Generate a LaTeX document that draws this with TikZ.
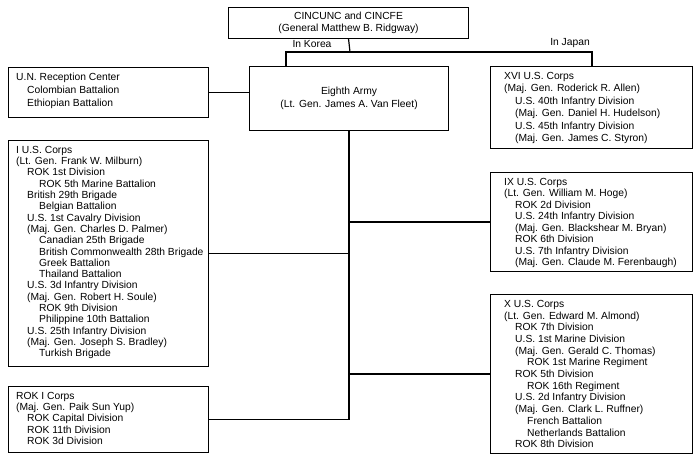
\documentclass[tikz,border=0pt]{standalone}
\usepackage{fontspec}
\setmainfont{Liberation Sans}
\usetikzlibrary{positioning}
\newcommand{\ia}{\hspace*{11pt}}
\newcommand{\ib}{\hspace*{23pt}}
\newcommand{\lines}[1]{\fontsize{10.3}{#1}\selectfont}
\begin{document}
\begin{tikzpicture}[x=1pt, y=-1pt,
  box/.style={draw, line width=1.1pt, anchor=north west, inner sep=0pt},
  txt/.style={anchor=north west, align=left, inner sep=0pt, xshift=8pt, yshift=-6pt},
  ctr/.style={align=center, font=\lines{12.5}},
  link/.style={line width=1.2pt},
]
\useasboundingbox (0,0) rectangle (700,460);

% command level
\node[box, minimum width=240pt, minimum height=31pt] (cinc) at (228,7) {};
\node[ctr] at (cinc.center) {CINCUNC and CINCFE\\(General Matthew B. Ridgway)};
\node[box, minimum width=199pt, minimum height=64pt] (eighth) at (249,66) {};
\node[ctr] at (eighth.center) {Eighth Army\\(Lt. Gen. James A. Van Fleet)};

% left column
\node[box, minimum width=200pt, minimum height=50pt] (unrc) at (8,67) {};
\node[txt, font=\lines{13}] at (unrc.north west)
  {U.N. Reception Center\\\ia Colombian Battalion\\\ia Ethiopian Battalion};
\node[box, minimum width=200pt, minimum height=226pt] (icorps) at (8,140) {};
\node[txt, font=\lines{11.3}] at (icorps.north west)
  {I U.S. Corps\\(Lt. Gen. Frank W. Milburn)\\
   \ia ROK 1st Division\\\ib ROK 5th Marine Battalion\\
   \ia British 29th Brigade\\\ib Belgian Battalion\\
   \ia U.S. 1st Cavalry Division\\\ia (Maj. Gen. Charles D. Palmer)\\
   \ib Canadian 25th Brigade\\\ib British Commonwealth 28th Brigade\\
   \ib Greek Battalion\\\ib Thailand Battalion\\
   \ia U.S. 3d Infantry Division\\\ia (Maj. Gen. Robert H. Soule)\\
   \ib ROK 9th Division\\\ib Philippine 10th Battalion\\
   \ia U.S. 25th Infantry Division\\\ia (Maj. Gen. Joseph S. Bradley)\\
   \ib Turkish Brigade};
\node[box, minimum width=200pt, minimum height=66pt] (rokone) at (8,386) {};
\node[txt, font=\lines{11.3}] at (rokone.north west)
  {ROK I Corps\\(Maj. Gen. Paik Sun Yup)\\\ia ROK Capital Division\\
   \ia ROK 11th Division\\\ia ROK 3d Division};

% right column
\node[box, minimum width=202pt, minimum height=82pt] (xvi) at (490,66) {};
\node[txt, font=\lines{12.5}, xshift=6pt] at (xvi.north west)
  {XVI U.S. Corps\\(Maj. Gen. Roderick R. Allen)\\
   \ia U.S. 40th Infantry Division\\\ia (Maj. Gen. Daniel H. Hudelson)\\
   \ia U.S. 45th Infantry Division\\\ia (Maj. Gen. James C. Styron)};
\node[box, minimum width=202pt, minimum height=99pt] (ix) at (490,172) {};
\node[txt, font=\lines{11.5}, xshift=6pt] at (ix.north west)
  {IX U.S. Corps\\(Lt. Gen. William M. Hoge)\\
   \ia ROK 2d Division\\\ia U.S. 24th Infantry Division\\
   \ia (Maj. Gen. Blackshear M. Bryan)\\\ia ROK 6th Division\\
   \ia U.S. 7th Infantry Division\\\ia (Maj. Gen. Claude M. Ferenbaugh)};
\node[box, minimum width=202pt, minimum height=159pt] (xcorps) at (490,294) {};
\node[txt, font=\lines{11.7}, xshift=6pt] at (xcorps.north west)
  {X U.S. Corps\\(Lt. Gen. Edward M. Almond)\\
   \ia ROK 7th Division\\\ia U.S. 1st Marine Division\\
   \ia (Maj. Gen. Gerald C. Thomas)\\\ib ROK 1st Marine Regiment\\
   \ia ROK 5th Division\\\ib ROK 16th Regiment\\
   \ia U.S. 2d Infantry Division\\\ia (Maj. Gen. Clark L. Ruffner)\\
   \ib French Battalion\\\ib Netherlands Battalion\\
   \ia ROK 8th Division};

% connectors
\coordinate (split) at (350,52);
\draw[link] (cinc.south) -- (split);
\draw[link] (eighth.north -| 286,0) |- (split) -| (xvi.north -| 592,0);
\node[font=\lines{10}, anchor=south west] at (289,51) {In Korea};
\node[font=\lines{10}, anchor=south] at (570,51) {In Japan};
\draw[link] (unrc.east) -- (unrc.east -| eighth.west);
\draw[link] (eighth.south) -- (eighth.south |- rokone.east) -- (rokone.east);
\draw[link] (icorps.east) -- (icorps.east -| eighth.south);
\draw[link] (ix.west) -- (ix.west -| eighth.south);
\draw[link] (xcorps.west) -- (xcorps.west -| eighth.south);
\end{tikzpicture}
\end{document}
